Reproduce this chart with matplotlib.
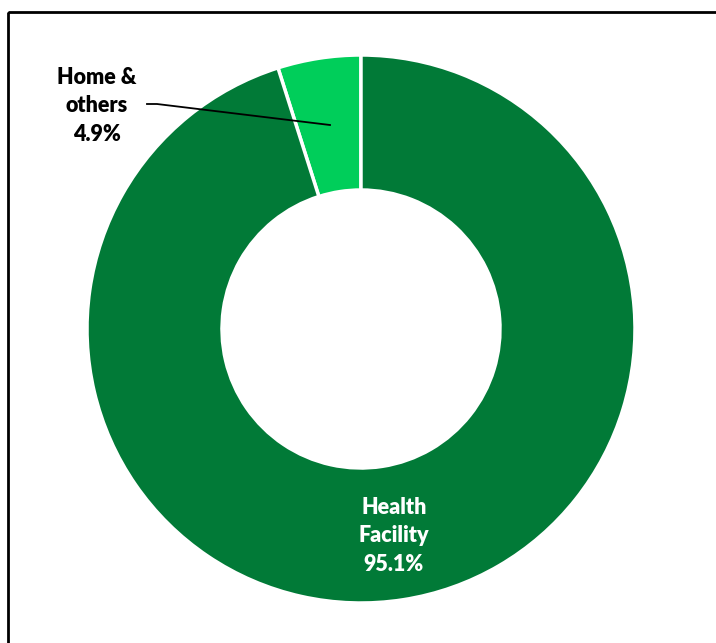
import matplotlib.pyplot as plt
from matplotlib.patches import Rectangle

labels = ['Home &\nothers', 'Health\nFacility']
shares = [4.9, 95.1]
colors = ['#00CE5A', '#017A37']

plt.rcParams['font.family'] = ['Lato', 'DejaVu Sans']

fig = plt.figure(figsize=(7.16, 6.43), dpi=100)
W, H = 716, 643
ax = fig.add_axes([0, 0, 1, 1])

# frame (runs off the right and bottom edges)
ax.add_patch(Rectangle((8, 12), 720, 660, fill=False, lw=2, ec='black'))

cx, cy, r_out, r_in = 361, 329, 274, 139
# y axis is inverted below, so angles run the other way
ax.pie(shares, colors=colors, startangle=-90, counterclock=False,
       radius=r_out, center=(cx, cy),
       wedgeprops=dict(width=r_out - r_in, edgecolor='white', linewidth=2.5),
       frame=True)
ax.set_xlim(0, W)
ax.set_ylim(H, 0)
ax.axis('off')

ax.text(97, 106, labels[0] + '\n%.1f%%' % shares[0], ha='center', va='center',
        fontsize=15.5, fontweight='heavy', color='black', linespacing=1.42)
ax.plot([147, 157, 330], [104, 104, 125], color='black', lw=1.3)

ax.text(394, 536, labels[1] + '\n%.1f%%' % shares[1], ha='center', va='center',
        fontsize=15.5, fontweight='heavy', color='white', linespacing=1.42)

fig.savefig('out.png', dpi=100)
